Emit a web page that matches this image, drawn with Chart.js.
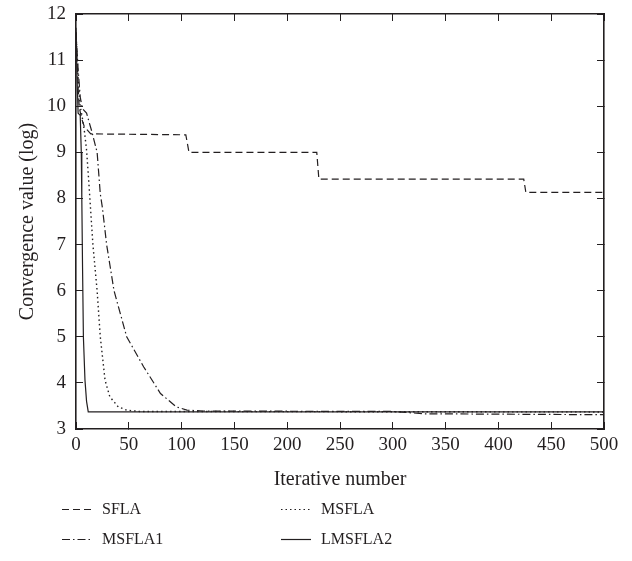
<!DOCTYPE html>
<html>
<head>
<meta charset="utf-8">
<script src="https://cdn.jsdelivr.net/npm/chart.js@4/dist/chart.umd.min.js"></script>
<style>
  html, body { margin: 0; padding: 0; background: #fff; }
  #wrap { position: relative; width: 632px; height: 561px; }
  #c { position: absolute; left: 0; top: 0; }
  .lg { position: absolute; font-family: "Liberation Serif", "DejaVu Serif", serif; font-size: 16px; color: #231f20; line-height: 20px; height: 20px; display: flex; align-items: center; }
  .lg svg { margin-right: 10px; }
</style>
</head>
<body>
<div id="wrap">
  <canvas id="c" width="632" height="561"></canvas>
  <div id="legend"></div>
</div>
<script>
// ---- data ----
const seriesNames = ["SFLA", "MSFLA", "MSFLA1", "LMSFLA2"];

const sflaX = [0, 1, 2, 3, 5, 8, 14, 104, 107, 228, 230, 424, 426, 500];
const sflaY = [11.6, 11.0, 10.4, 10.0, 9.75, 9.55, 9.4, 9.38, 9.0, 9.0, 8.42, 8.42, 8.13, 8.13];

const msflaX = [0, 2, 4, 6, 8, 10, 12, 16, 20, 23, 27.5, 32, 40, 48, 60, 500];
const msflaY = [11.6, 10.6, 10.0, 9.75, 9.45, 9.05, 8.4, 7.0, 6.0, 5.0, 4.06, 3.7, 3.48, 3.41, 3.38, 3.37];

const msfla1X = [0, 2, 4, 6, 10, 15, 20, 23, 25, 29, 36, 48, 64, 80, 95, 105, 120, 300, 330, 500];
const msfla1Y = [11.6, 10.8, 10.2, 9.95, 9.85, 9.45, 9.0, 8.1, 7.8, 7.0, 6.0, 5.0, 4.35, 3.77, 3.48, 3.41, 3.39, 3.38, 3.33, 3.31];

const lmsfla2X = [0, 1, 2, 4, 5, 5.5, 6.2, 7, 8.5, 10, 11.6, 500];
const lmsfla2Y = [11.7, 10.6, 9.85, 9.8, 9.0, 8.0, 6.5, 5.0, 4.06, 3.6, 3.37, 3.37];

const xTicks = [0, 50, 100, 150, 200, 250, 300, 350, 400, 450, 500];
const yTicks = [3, 4, 5, 6, 7, 8, 9, 10, 11, 12];

// ---- styling ----
const INK = "#231f20";
const FONT = "'Liberation Serif', 'DejaVu Serif', serif";
const dashes = {
  "SFLA": [7, 4],
  "MSFLA": [1.5, 3],
  "MSFLA1": [8, 3, 1.5, 3],
  "LMSFLA2": []
};

function pts(xs, ys) { return xs.map((x, i) => ({ x: x, y: ys[i] })); }
const seriesData = {
  "SFLA": pts(sflaX, sflaY),
  "MSFLA": pts(msflaX, msflaY),
  "MSFLA1": pts(msfla1X, msfla1Y),
  "LMSFLA2": pts(lmsfla2X, lmsfla2Y)
};

const datasets = seriesNames.map(n => ({
  label: n,
  data: seriesData[n],
  borderColor: INK,
  borderWidth: n === "MSFLA" ? 1.4 : 1.2,
  borderDash: dashes[n],
  pointRadius: 0,
  fill: false,
  tension: 0,
  xAxisID: "x",
  yAxisID: "y"
}));

const gridOpts = {
  display: true,
  drawOnChartArea: false,
  drawTicks: true,
  tickLength: -7,
  color: INK,
  lineWidth: 1
};
const borderOpts = { display: true, color: INK, width: 1.6 };

new Chart(document.getElementById("c"), {
  type: "line",
  data: { datasets: datasets },
  options: {
    responsive: false,
    animation: false,
    events: [],
    layout: { padding: { left: 12, top: 14, right: 28, bottom: 65 } },
    plugins: { legend: { display: false }, tooltip: { enabled: false } },
    scales: {
      x: {
        type: "linear", position: "bottom", min: 0, max: 500,
        afterBuildTicks: s => { s.ticks = xTicks.map(v => ({ value: v })); },
        afterFit: s => { s.height = 67; s.paddingLeft = 0; s.paddingRight = 0; },
        ticks: { color: INK, font: { family: FONT, size: 19 }, padding: 12, maxRotation: 0, autoSkip: false },
        grid: gridOpts, border: borderOpts,
        title: { display: true, text: "Iterative number", color: INK, font: { family: FONT, size: 20 } }
      },
      x2: {
        type: "linear", position: "top", min: 0, max: 500,
        afterBuildTicks: s => { s.ticks = xTicks.map(v => ({ value: v })); },
        afterFit: s => { s.height = 0; },
        ticks: { display: false },
        grid: gridOpts, border: borderOpts
      },
      y: {
        type: "linear", position: "left", min: 3, max: 12,
        afterBuildTicks: s => { s.ticks = yTicks.map(v => ({ value: v })); },
        afterFit: s => { s.width = 64; s.paddingTop = 0; s.paddingBottom = 0; },
        ticks: { color: INK, font: { family: FONT, size: 19 }, padding: 17, autoSkip: false },
        grid: gridOpts, border: borderOpts,
        title: { display: true, text: "Convergence value (log)", color: INK, font: { family: FONT, size: 20 } }
      },
      y2: {
        type: "linear", position: "right", min: 3, max: 12,
        afterBuildTicks: s => { s.ticks = yTicks.map(v => ({ value: v })); },
        afterFit: s => { s.width = 0; s.paddingTop = 0; s.paddingBottom = 0; },
        ticks: { display: false },
        grid: gridOpts, border: borderOpts
      }
    }
  }
});

// ---- legend (HTML, two columns) ----
const legendPos = {
  "SFLA": { left: 62, top: 499 },
  "MSFLA": { left: 281, top: 499 },
  "MSFLA1": { left: 62, top: 529 },
  "LMSFLA2": { left: 281, top: 529 }
};
const lg = document.getElementById("legend");
seriesNames.forEach(n => {
  const d = document.createElement("div");
  d.className = "lg";
  d.style.left = legendPos[n].left + "px";
  d.style.top = legendPos[n].top + "px";
  const dash = dashes[n].length ? ' stroke-dasharray="' + dashes[n].join(",") + '"' : "";
  d.innerHTML = '<svg width="30" height="20"><line x1="0" y1="10.5" x2="30" y2="10.5" stroke="' + INK + '" stroke-width="1.2"' + dash + '/></svg>';
  const t = document.createElement("span");
  t.textContent = n;
  d.appendChild(t);
  lg.appendChild(d);
});
</script>
</body>
</html>
